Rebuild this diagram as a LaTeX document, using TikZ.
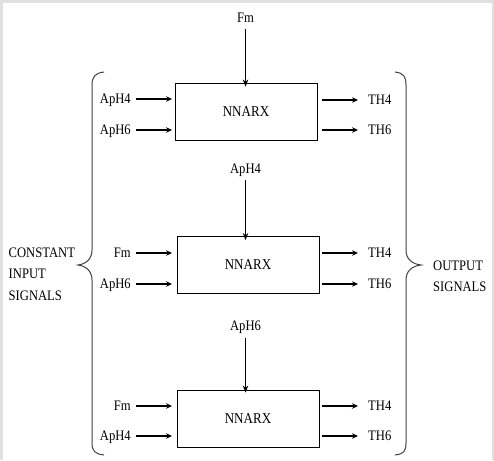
\documentclass[tikz,border=0pt]{standalone}
\usepackage{fontspec}
\setmainfont[FakeStretch=0.87]{Liberation Serif}
\usetikzlibrary{arrows.meta}
\begin{document}
\begin{tikzpicture}[x=1pt,y=-1pt,
  nnbox/.style={draw,line width=0.9pt,minimum width=142pt,minimum height=57pt,inner sep=0pt,font=\fontsize{15}{17}\selectfont},
  lbl/.style={inner sep=0pt,font=\fontsize{14.5}{16}\selectfont},
  inarrow/.style={line width=1.3pt,-{Stealth[length=6pt,width=5.5pt]}},
  toparrow/.style={line width=0.9pt,-{Stealth[length=7pt,width=5.5pt]}},
  bracestyle/.style={line width=1pt,draw=black!75}
]
\fill[black!12] (0,0) rectangle (494,460);
\fill[white] (3,3) rectangle (492,460);
\useasboundingbox (0,0) rectangle (494,460);

% boxes
\node[nnbox] (b1) at (246,111.5) {NNARX};
\node[nnbox] (b2) at (248,265) {NNARX};
\node[nnbox] (b3) at (248,418.5) {NNARX};

% top labels
\node[lbl,anchor=base] (t1) at (245.5,22.7) {Fm};
\node[lbl,anchor=base] (t2) at (245.5,173) {ApH4};
\node[lbl,anchor=base] (t3) at (245.5,330.5) {ApH6};
\coordinate (t1s) at (245.5,29);
\coordinate (t2s) at (245.5,180);
\coordinate (t3s) at (245.5,338);
\draw[toparrow] (t1s) -- ([yshift=-4pt]t1s |- b1.north);
\draw[toparrow] (t2s) -- ([yshift=-4pt]t2s |- b2.north);
\draw[toparrow] (t3s) -- ([yshift=-3pt]t3s |- b3.north);

% input labels
\node[lbl,anchor=base east] (i11) at (131,103.8) {ApH4};
\node[lbl,anchor=base east] (i12) at (131,134.8) {ApH6};
\node[lbl,anchor=base east] (i21) at (131,257.8) {Fm};
\node[lbl,anchor=base east] (i22) at (131,288.8) {ApH6};
\node[lbl,anchor=base east] (i31) at (131,410.8) {Fm};
\node[lbl,anchor=base east] (i32) at (131,440.8) {ApH4};
\foreach \n/\y in {i11/99,i12/130,i21/253,i22/284,i31/406,i32/436}{
  \coordinate (\n s) at (136,\y);
  \coordinate (\n e) at (172,\y);
  \draw[inarrow] (\n s) -- (\n e);
}

% output labels
\node[lbl,anchor=base west] (o11) at (368,104.8) {TH4};
\node[lbl,anchor=base west] (o12) at (368,134.8) {TH6};
\node[lbl,anchor=base west] (o21) at (368,257.8) {TH4};
\node[lbl,anchor=base west] (o22) at (368,288.8) {TH6};
\node[lbl,anchor=base west] (o31) at (368,410.8) {TH4};
\node[lbl,anchor=base west] (o32) at (368,440.8) {TH6};
\foreach \n/\y in {o11/100,o12/130,o21/253,o22/284,o31/406,o32/436}{
  \coordinate (\n s) at (322,\y);
  \coordinate (\n e) at (358,\y);
  \draw[inarrow] (\n s) -- (\n e);
}

% braces
\draw[bracestyle] (104,72) .. controls (95,73) and (92,77) .. (92,85)
  -- (92,250) .. controls (92,259) and (86,264) .. (78,265)
  .. controls (86,266) and (92,271) .. (92,280)
  -- (92,443) .. controls (92,451) and (95,454) .. (104,455);
\draw[bracestyle] (395,72) .. controls (404,73) and (406,77) .. (406,85)
  -- (406,250) .. controls (406,259) and (412,264) .. (421,265)
  .. controls (412,266) and (406,271) .. (406,280)
  -- (406,443) .. controls (406,451) and (404,454) .. (395,455);

% side labels
\node[lbl,anchor=base west] (c1) at (8.5,257) {CONSTANT};
\node[lbl,anchor=base west] (c2) at (8.5,278.5) {INPUT};
\node[lbl,anchor=base west] (c3) at (8.5,300) {SIGNALS};
\node[lbl,anchor=base west] (s1) at (433,270) {OUTPUT};
\node[lbl,anchor=base west] (s2) at (433,291) {SIGNALS};
\end{tikzpicture}
\end{document}
